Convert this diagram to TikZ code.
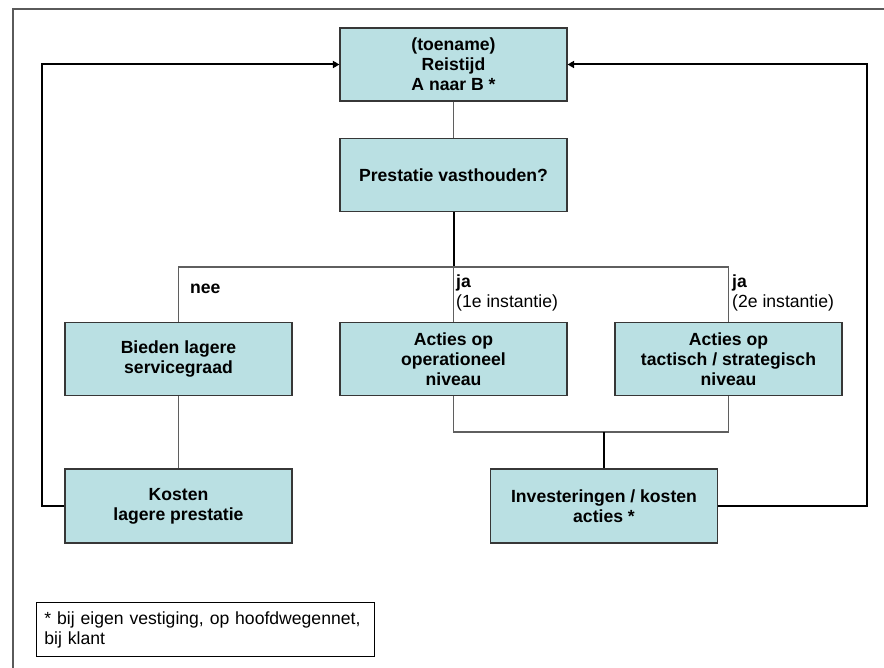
\documentclass[tikz,border=0pt]{standalone}
\usepackage{fontspec}
\setmainfont{Liberation Sans}
\usetikzlibrary{arrows.meta}
\definecolor{boxfill}{RGB}{186,224,227}
\definecolor{boxline}{RGB}{55,55,55}
\definecolor{thinline}{RGB}{95,95,95}
\definecolor{framegray}{RGB}{90,90,90}
\begin{document}
\begin{tikzpicture}[x=1pt,y=-1pt,
  box/.style={draw=boxline, line width=1.1pt, fill=boxfill, minimum width=227pt,
    minimum height=73pt, align=center, inner sep=2pt,
    font=\fontsize{17.6}{20}\selectfont\bfseries},
  thinc/.style={draw=thinline, line width=1.1pt},
  thickc/.style={draw=black, line width=2pt},
  loopc/.style={thickc, -{Triangle[length=6.5pt,width=7pt]}},
  lbl/.style={font=\fontsize{17.6}{20}\selectfont, inner sep=0pt},
  foot/.style={draw=black, line width=0.9pt, anchor=north west, align=left,
    text width=322pt, inner xsep=8pt, inner ysep=0pt, minimum height=54pt,
    font=\fontsize{17.6}{20}\selectfont}]
\useasboundingbox (0,0) rectangle (884,668);
\fill[white] (0,0) rectangle (884,668);
% outer frame
\draw[framegray, line width=1.3pt] (13,668) -- (13,9) -- (884,9);

% boxes
\node[box] (top) at (453.5,64.5) {(toename)\\Reistijd\\A naar B *};
\node[box, minimum height=73pt] (prest) at (453.5,175) {Prestatie vasthouden?};
\node[box] (bieden) at (178.5,359) {Bieden lagere\\servicegraad};
\node[box] (oper) at (453.5,359) {Acties op\\operationeel\\niveau};
\node[box] (tact) at (728.5,359) {Acties op\\tactisch / strategisch\\niveau};
\node[box, minimum height=74pt] (kosten) at (178.5,506) {Kosten\\lagere prestatie};
\node[box, minimum height=74pt] (inv) at (604,506) {Investeringen / kosten\\acties *};

% coordinates
\coordinate (br) at (453.5,267);
\coordinate (jn) at (604,432);
\coordinate (lc) at (42,0);
\coordinate (rc) at (867,0);

% connectors
\draw[thinc] (top) -- (prest);
\draw[thickc] (prest.south) -- (br);
\draw[thinc] (bieden.north) |- (br) -| (tact.north);
\draw[thinc] (br) -- (oper.north);
\draw[thinc] (oper.south) |- (tact.south |- jn) -- (tact.south);
\draw[thickc] (jn) -- (inv.north);
\draw[thinc] (bieden) -- (kosten);
\draw[loopc] (kosten.west) -| (lc |- top.west) -- (top.west);
\draw[loopc] (inv.east) -| (rc |- top.east) -- (top.east);

% labels
\node[lbl, anchor=base west] (nee) at (190,294) {\bfseries nee};
\node[lbl, anchor=base west] (ja1) at (456,288) {\bfseries ja};
\node[lbl, anchor=base west] (inst1) at (456,308) {(1e instantie)};
\node[lbl, anchor=base west] (ja2) at (732,288) {\bfseries ja};
\node[lbl, anchor=base west] (inst2) at (732,308) {(2e instantie)};

% footnote
\node[foot] (fn) at (36,602) {* bij eigen vestiging, op hoofdwegennet,\\bij klant};
\end{tikzpicture}
\end{document}
